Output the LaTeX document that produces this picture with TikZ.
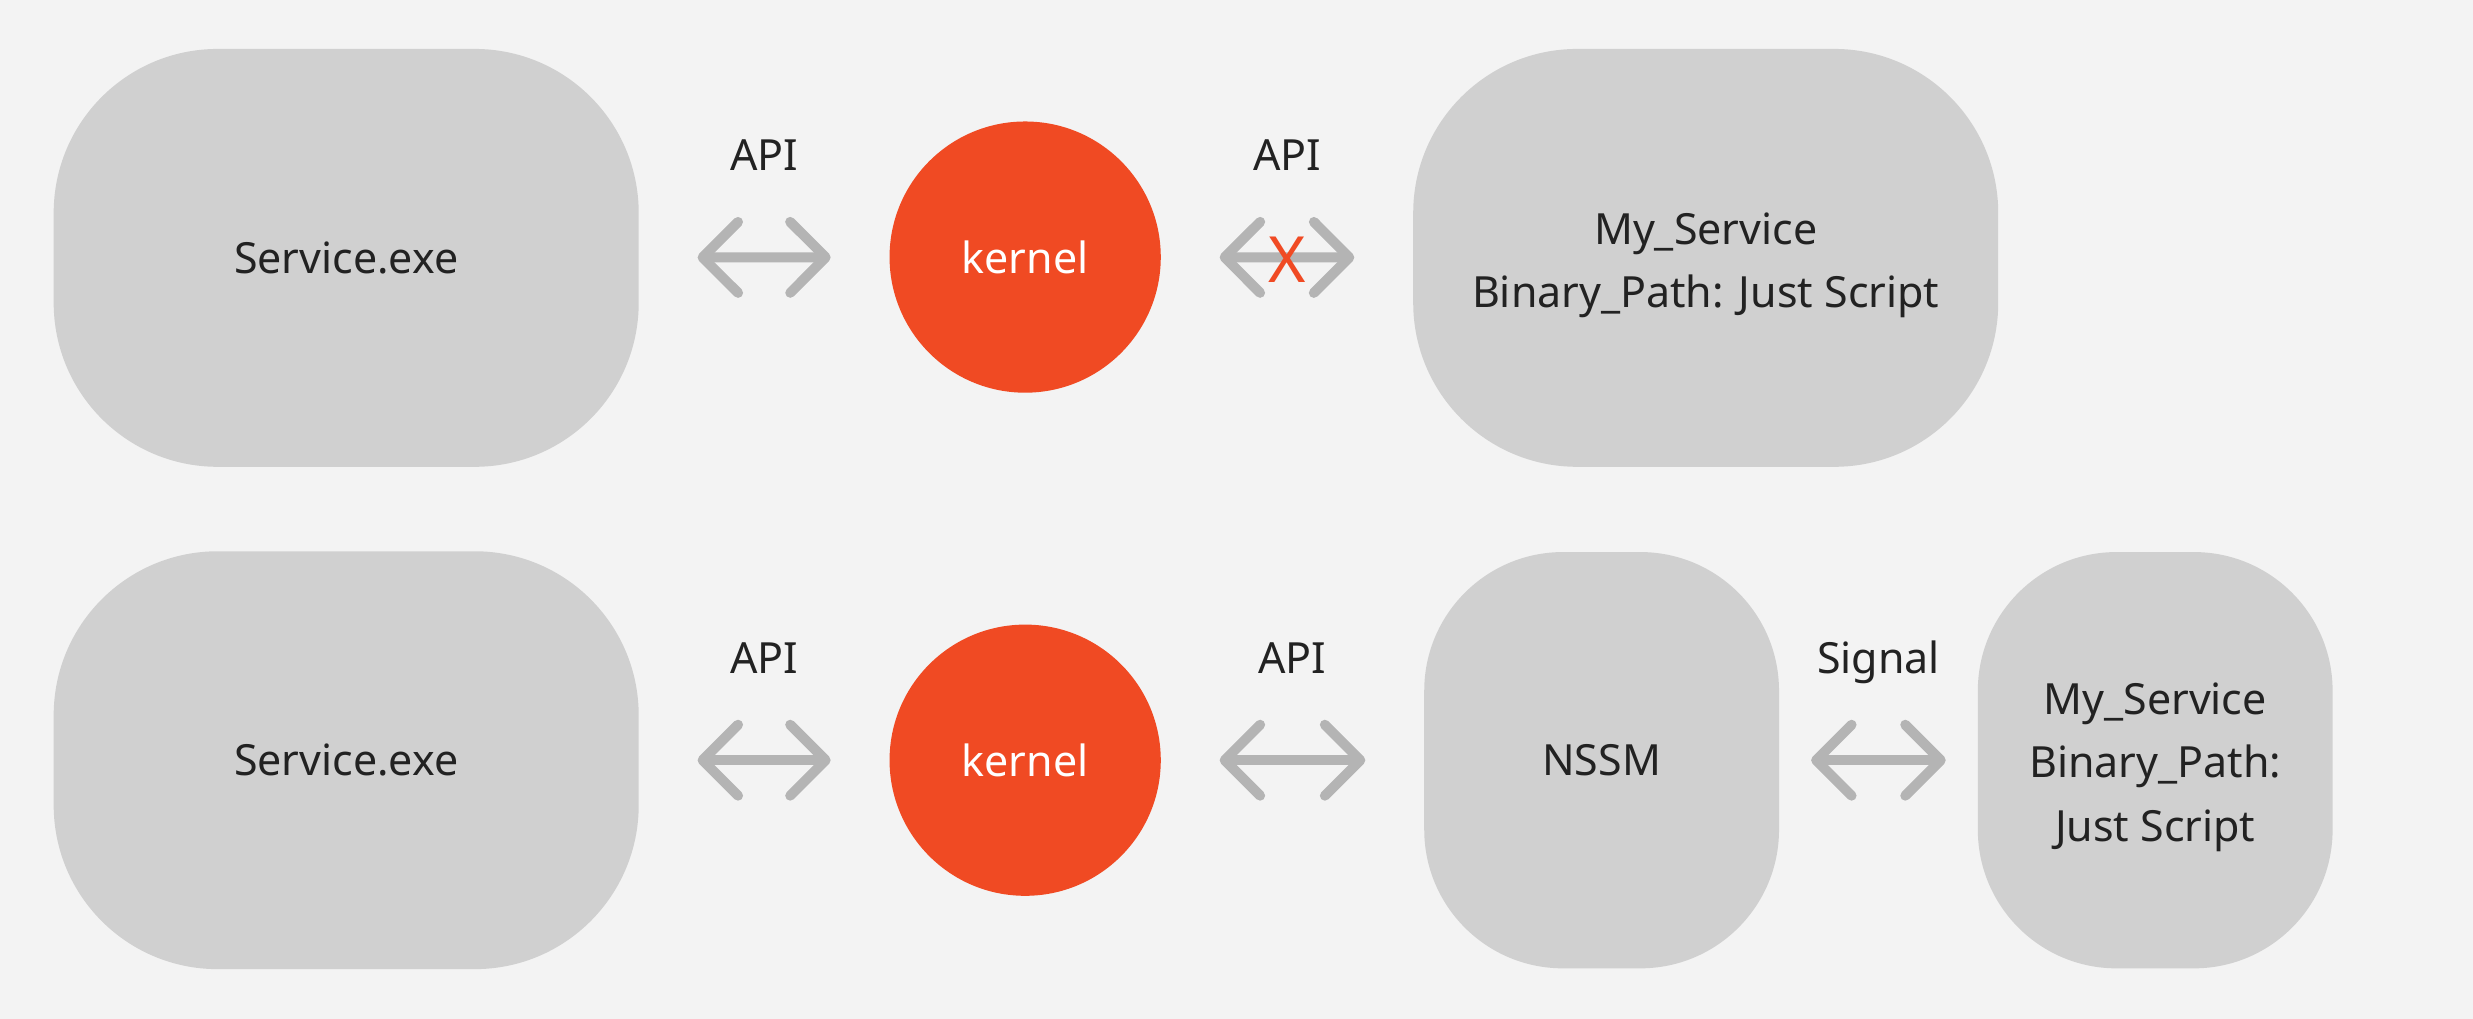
\documentclass[tikz,border=0pt]{standalone}
\usepackage{fontspec}
\setmainfont{Noto Sans}
\usepackage{xcolor}
\definecolor{bggray}{HTML}{F3F3F3}
\definecolor{boxgray}{HTML}{D0D0D0}
\definecolor{kernred}{HTML}{F04A23}
\definecolor{arrgray}{HTML}{B4B4B4}
\definecolor{txtdark}{HTML}{222222}
\usetikzlibrary{arrows.meta,positioning}

\tikzset{
  wide box/.style={rectangle, fill=boxgray, text=txtdark, inner sep=0pt,
    minimum width=7.42cm, minimum height=5.3cm, rounded corners=2.08cm,
    align=center, font={\fontsize{15.5}{22.8}\selectfont}},
  narrow box/.style={wide box, minimum width=4.5cm, minimum height=5.28cm,
    rounded corners=1.76cm},
  kern/.style={circle, fill=kernred, text=white, inner sep=0pt,
    minimum size=3.44cm, font={\fontsize{15.5}{18}\selectfont}},
  biarrow/.style={arrgray, line width=3.6pt, line cap=round,
    {Straight Barb[length=0.45cm, width=0.9cm, round]}-{Straight Barb[length=0.45cm, width=0.9cm, round]},
    shorten <=#1, shorten >=#1},
  biarrow/.default=0.74cm,
  lbl/.style={text=txtdark, anchor=base, yshift=1.1cm,
    font={\fontsize{15.5}{18}\selectfont}}
}

\begin{document}
\begin{tikzpicture}[x=0.02cm, y=-0.02cm]
\fill[bggray] (0,0) rectangle (1568,646);
\useasboundingbox (0,0) rectangle (1568,646);

% top row: service talks to kernel, script can not
\node[wide box] (svcA) at (219.5,163.5) {Service.exe};
\node[kern] (kernA) at (650,163) {kernel};
\node[wide box] (scriptA) at (1081.5,163.5) {};
\node[align=center, text=txtdark, font={\fontsize{15.5}{22.8}\selectfont}, yshift=-0.09cm]
  at (scriptA) {My\_Service\\Binary\_Path: Just Script};

\draw[biarrow] (svcA) -- (kernA) node[midway, lbl] {API};
\draw[biarrow] (kernA) -- (scriptA) node[midway, lbl] {API}
  node[midway, text=kernred, yshift=-0.03cm, font={\fontsize{23}{25}\selectfont}] (noway) {X};

% bottom row: NSSM in between
\node[wide box] (svcB) at (219.5,482) {Service.exe};
\node[kern] (kernB) at (650,482) {kernel};
\node[narrow box] (nssm) at (1015.5,482) {NSSM};
\node[narrow box] (scriptB) at (1366.5,482) {};
\node[align=center, text=txtdark, font={\fontsize{15.5}{22.8}\selectfont}, yshift=-0.09cm]
  at (scriptB) {My\_Service\\Binary\_Path:\\Just Script};

\draw[biarrow] (svcB) -- (kernB) node[midway, lbl] {API};
\draw[biarrow] (kernB) -- (nssm) node[midway, lbl] {API};
\draw[biarrow=0.4cm] (nssm) -- (scriptB) node[midway, lbl] {Signal};
\end{tikzpicture}
\end{document}
